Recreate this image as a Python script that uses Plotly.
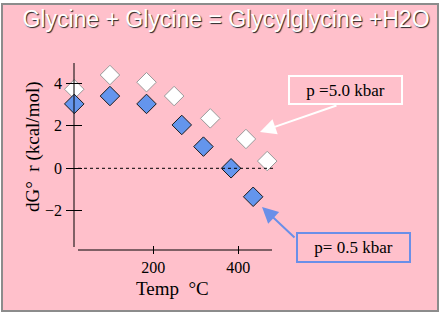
import plotly.graph_objects as go

# Data
temp_05 = [14, 98, 184, 267, 318, 383, 435]
dg_05 = [3.03, 3.4, 3.03, 2.04, 1.02, 0.0, -1.34]
temp_50 = [14, 98, 184, 249, 334, 418, 468]
dg_50 = [3.72, 4.39, 4.05, 3.4, 2.35, 1.38, 0.34]
y_ticks = [4, 2, 0, -2]
x_ticks = [200, 400]

W, H = 443, 316
L, R, T, B = 66, 272, 63, 254  # plot area in pixels

def px(x):
    return (x - L) / (R - L)

def py(y):
    return (B - y) / (B - T)

serif = "Liberation Serif, Times New Roman, serif"

fig = go.Figure()
fig.add_trace(go.Scatter(x=temp_50, y=dg_50, mode="markers",
                         marker=dict(symbol="diamond", size=15, color="white",
                                     line=dict(color="#999999", width=1)),
                         showlegend=False, cliponaxis=False))
fig.add_trace(go.Scatter(x=temp_05, y=dg_05, mode="markers",
                         marker=dict(symbol="diamond", size=15, color="#6495ED",
                                     line=dict(color="#1a1a1a", width=1)),
                         showlegend=False, cliponaxis=False))

xr = [-5.4, 479.3]
yr = [-4.033, 4.955]
axfont = dict(family=serif, size=16, color="black")

fig.update_layout(
    width=W, height=H,
    margin=dict(l=L, r=W - R, t=T, b=H - B, pad=0),
    paper_bgcolor="white",
    plot_bgcolor="rgba(0,0,0,0)",
    xaxis=dict(range=xr, tickvals=x_ticks, ticks="inside", ticklen=8, tickwidth=1,
               tickcolor="black", showgrid=False, zeroline=False, showline=False,
               tickfont=axfont, ticklabelstandoff=2),
    yaxis=dict(range=yr, tickvals=y_ticks, ticks="inside", ticklen=16, tickwidth=1,
               tickcolor="black", showgrid=False, zeroline=False, showline=False,
               tickfont=axfont, ticklabelstandoff=3),
    title=dict(text="Glycine + Glycine = Glycylglycine +H2O", xref="container", yref="container",
               x=226 / W, y=1 - 19 / H, xanchor="center", yanchor="middle",
               font=dict(family="Liberation Sans, Arial, sans-serif", size=23, color="white",
                         shadow="1px 1px 1px #222")),
)

shapes = [
    # pink panel with grey border
    dict(type="rect", xref="paper", yref="paper", x0=px(2), x1=px(438), y0=py(311), y1=py(4),
         fillcolor="#FFC0CB", line=dict(color="#8c8c8c", width=2), layer="below"),
    # y axis line
    dict(type="line", xref="paper", yref="paper", x0=px(74), x1=px(74), y0=py(247), y1=1,
         line=dict(color="black", width=1)),
    # x axis line
    dict(type="line", xref="paper", yref="paper", x0=px(78), x1=1, y0=py(250), y1=py(250),
         line=dict(color="black", width=1)),
    # dotted zero line
    dict(type="line", xref="paper", yref="y", x0=px(78), x1=px(273), y0=0, y1=0,
         line=dict(color="black", width=1, dash="dot")),
]
fig.update_layout(shapes=shapes)

annotations = [
    dict(text="Temp  °C", xref="paper", yref="paper", x=px(172), y=py(288),
         showarrow=False, xanchor="center", yanchor="middle",
         font=dict(family=serif, size=19, color="black")),
    dict(text="dG°  r (kcal/mol)", xref="paper", yref="paper", x=px(33), y=py(147),
         showarrow=False, textangle=-90, xanchor="center", yanchor="middle",
         font=dict(family=serif, size=19, color="black")),
    # label boxes
    dict(text="p =5.0 kbar", xref="paper", yref="paper", x=px(345.5), y=py(90),
         showarrow=False, xanchor="center", yanchor="middle",
         width=109, height=24, borderpad=1, borderwidth=2, bordercolor="white",
         font=dict(family=serif, size=17, color="black")),
    dict(text="p= 0.5 kbar", xref="paper", yref="paper", x=px(353.5), y=py(247.5),
         showarrow=False, xanchor="center", yanchor="middle",
         width=109, height=25, borderpad=1, borderwidth=2, bordercolor="#6A8FE8",
         font=dict(family=serif, size=17, color="black")),
    # arrows
    dict(text="", x=451, y=1.71, xref="x", yref="y", showarrow=True,
         ax=78, ay=-27, axref="pixel", ayref="pixel",
         arrowhead=2, arrowsize=1.6, arrowwidth=2, arrowcolor="white", standoff=0),
    dict(text="", x=455.8, y=-1.82, xref="x", yref="y", showarrow=True,
         ax=34, ay=32, axref="pixel", ayref="pixel",
         arrowhead=2, arrowsize=1.6, arrowwidth=2, arrowcolor="#6A8FE8", standoff=0),
]
fig.update_layout(annotations=annotations)

fig.write_html("out.html")
